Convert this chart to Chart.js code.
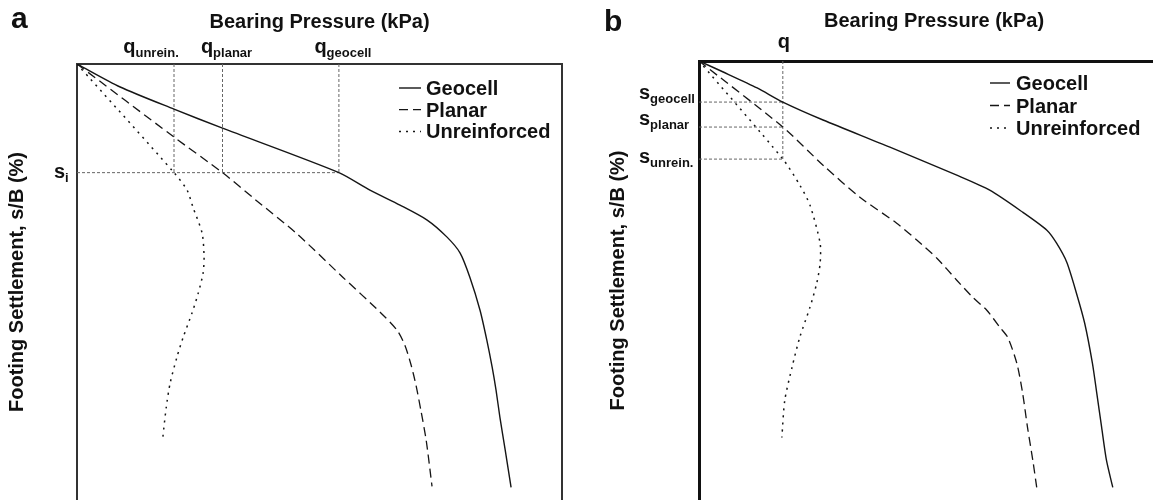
<!DOCTYPE html>
<html>
<head>
<meta charset="utf-8">
<title>Bearing pressure vs footing settlement</title>
<script src="https://cdn.jsdelivr.net/npm/chart.js@4.4.1/dist/chart.umd.min.js"></script>
<style>
  html, body { margin: 0; padding: 0; overflow: hidden; background: #fff; }
  .panel { position: absolute; top: 0; }
  #panelA { left: 0; }
  #panelB { left: 580px; }
</style>
</head>
<body>
<div class="panel" id="panelA"><canvas id="chartA" width="580" height="500"></canvas></div>
<div class="panel" id="panelB"><canvas id="chartB" width="600" height="500"></canvas></div>
<script>
// Series names (legend)
const seriesNames = ['Geocell', 'Planar', 'Unreinforced'];

// Panel a - bearing pressure q (kPa) and settlement s/B (%)
const aGeocellQ = [0, 89, 200, 300, 540, 604, 666, 722, 763, 790, 810, 831, 845, 856, 864, 872, 883, 895];
const aGeocellS = [0, 1.63, 3.2, 4.55, 7.7, 8.94, 10.0, 11.06, 12.27, 13.4, 15.11, 17.45, 19.57, 21.49, 23.12, 25.04, 27.38, 30.0];
const aPlanarQ = [0, 200, 300, 369, 452, 548, 625, 660, 676, 689, 699, 709, 720, 732];
const aPlanarS = [0, 5.18, 7.7, 9.65, 11.99, 15.11, 17.59, 18.87, 19.93, 21.35, 22.77, 24.54, 26.67, 29.93];
const aUnreinQ = [0, 200, 227, 239, 258, 262, 260, 250, 237, 219, 206, 192, 184, 177];
const aUnreinS = [0, 7.7, 8.94, 10.14, 11.99, 13.69, 14.82, 16.24, 17.66, 19.36, 20.78, 22.62, 24.33, 26.45];
// reference settlement s_i and the pressures reached at it
const aSi = 7.7;
const aQAtSi = [200, 300, 540];
const aQNames = ['unrein.', 'planar', 'geocell'];

// Panel b - same axes, fixed pressure q
const bGeocellQ = [0, 50, 120, 173, 256, 394, 532, 600, 668, 718, 738, 759, 779, 796, 812, 821, 831, 841, 854];
const bGeocellS = [0, 0.78, 1.91, 2.91, 4.18, 6.1, 8.09, 9.15, 10.71, 11.99, 12.91, 14.26, 16.45, 18.58, 21.42, 23.55, 25.96, 28.3, 30.21];
const bPlanarQ = [0, 173, 256, 332, 408, 450, 491, 532, 565, 594, 621, 637, 656, 668, 678, 689, 697];
const bPlanarS = [0, 4.68, 7.38, 9.65, 11.49, 12.7, 13.97, 15.53, 16.74, 17.66, 18.87, 19.57, 21.42, 23.55, 25.96, 28.3, 30.21];
const bUnreinQ = [0, 173, 208, 229, 250, 250, 243, 229, 208, 192, 177, 171];
const bUnreinS = [0, 6.95, 8.79, 10.21, 12.91, 14.33, 15.74, 17.45, 19.57, 21.7, 24.04, 26.67];
const bQ = 173;
const bSAtQ = [2.91, 4.68, 6.95];
const bSNames = ['geocell', 'planar', 'unrein.'];

const FONT = "'Liberation Sans', Arial, Helvetica, sans-serif";
Chart.defaults.font.family = FONT;
Chart.defaults.color = '#111';

const pts = (xs, ys) => xs.map((v, i) => ({ x: v, y: ys[i] }));

function curves(gq, gs, pq, ps, uq, us) {
    return [
        { label: 'Geocell', data: pts(gq, gs), borderColor: '#151515', borderWidth: 1.4, tension: 0.25 },
        { label: 'Planar', data: pts(pq, ps), borderColor: '#151515', borderWidth: 1.3, borderDash: [9, 5], tension: 0.25 },
        { label: 'Unreinforced', data: pts(uq, us), borderColor: '#151515', borderWidth: 1.5, borderDash: [2, 5], tension: 0.25 }
    ];
}

function guide(data) {
    return { label: 'guide', data: data, borderColor: '#666', borderWidth: 1, borderDash: [3, 2], tension: 0, order: 5 };
}

// pressure / settlement letter with a subscript
function subText(ctx, main, sub, x, y, align) {
    ctx.font = 'bold 20px ' + FONT;
    const w1 = ctx.measureText(main).width;
    ctx.font = 'bold 13px ' + FONT;
    const w2 = ctx.measureText(sub).width;
    const left = align === 'center' ? x - (w1 + w2) / 2 : x;
    ctx.textAlign = 'left';
    ctx.font = 'bold 20px ' + FONT;
    ctx.fillText(main, left, y);
    ctx.font = 'bold 13px ' + FONT;
    ctx.fillText(sub, left + w1, y + 4);
}

const annotate = {
    id: 'annotate',
    afterDraw(chart, args, opts) {
        const { ctx } = chart;
        ctx.save();
        ctx.fillStyle = '#111';
        ctx.textBaseline = 'alphabetic';
        // panel letter
        ctx.font = 'bold 30px ' + FONT;
        ctx.textAlign = 'left';
        ctx.fillText(opts.letter.text, opts.letter.x, opts.letter.y);
        // legend
        const lg = opts.legend;
        chart.data.datasets.filter(d => seriesNames.includes(d.label)).forEach((d, i) => {
            const yb = lg.y + i * lg.step;
            ctx.strokeStyle = d.borderColor;
            ctx.lineWidth = d.borderWidth;
            ctx.setLineDash(d.borderDash || []);
            ctx.beginPath();
            ctx.moveTo(lg.x1, yb - 7);
            ctx.lineTo(lg.x2, yb - 7);
            ctx.stroke();
            ctx.setLineDash([]);
            ctx.font = 'bold 20px ' + FONT;
            ctx.fillText(d.label, lg.tx, yb);
        });
        opts.labels(chart).forEach(l => subText(ctx, l.main, l.sub, l.x, l.y, l.align));
        ctx.restore();
    }
};

function scalesFor(xMax, yMax, xPad, yPad, bw, bc) {
    return {
        x: {
            type: 'linear', position: 'top', min: 0, max: xMax,
            grid: { display: false, drawTicks: false },
            ticks: { display: false },
            border: { display: true, width: bw, color: bc },
            title: { display: true, text: 'Bearing Pressure (kPa)', font: { size: 20, weight: 'bold' }, color: '#111', padding: xPad }
        },
        y: {
            type: 'linear', position: 'left', reverse: true, min: 0, max: yMax,
            grid: { display: false, drawTicks: false },
            ticks: { display: false },
            border: { display: true, width: bw, color: bc },
            title: { display: true, text: 'Footing Settlement, s/B (%)', font: { size: 20, weight: 'bold' }, color: '#111', padding: yPad }
        }
    };
}

// ---- panel a ----
const dsA = curves(aGeocellQ, aGeocellS, aPlanarQ, aPlanarS, aUnreinQ, aUnreinS);
dsA.push(guide([{ x: 0, y: aSi }, { x: aQAtSi[2], y: aSi }]));
aQAtSi.forEach(q => dsA.push(guide([{ x: q, y: 0 }, { x: q, y: aSi }])));

const scalesA = scalesFor(1000, 30.9, { top: 10, bottom: 30 }, { top: 5.5, bottom: 47.5 }, 2, '#333');
scalesA.yRight = {
    type: 'linear', position: 'right', display: true,
    grid: { display: false, drawTicks: false },
    ticks: { display: false },
    border: { display: true, width: 2, color: '#333' }
};

new Chart(document.getElementById('chartA'), {
    type: 'line',
    data: { datasets: dsA },
    options: {
        responsive: false,
        animation: false,
        layout: { padding: { left: 0, top: 0, right: 18, bottom: 0 }, autoPadding: false },
        elements: { point: { radius: 0 } },
        plugins: {
            legend: { display: false },
            tooltip: { enabled: false },
            annotate: {
                letter: { text: 'a', x: 11, y: 28 },
                legend: { x1: 399, x2: 421, tx: 426, y: 95, step: 21.7 },
                labels: chart => {
                    const { x, y } = chart.scales;
                    const dx = [-23, 4, 4];
                    const out = aQAtSi.map((q, i) => ({
                        main: 'q', sub: aQNames[i], align: 'center',
                        x: x.getPixelForValue(q) + dx[i], y: chart.chartArea.top - 11
                    }));
                    out.push({ main: 's', sub: 'i', align: 'left', x: 54, y: y.getPixelForValue(aSi) + 5 });
                    return out;
                }
            }
        },
        scales: scalesA
    },
    plugins: [annotate]
});

// ---- panel b ----
const dsB = curves(bGeocellQ, bGeocellS, bPlanarQ, bPlanarS, bUnreinQ, bUnreinS);
dsB.push(guide([{ x: bQ, y: 0 }, { x: bQ, y: bSAtQ[2] }]));
bSAtQ.forEach(s => dsB.push(guide([{ x: 0, y: s }, { x: bQ, y: s }])));

new Chart(document.getElementById('chartB'), {
    type: 'line',
    data: { datasets: dsB },
    options: {
        responsive: false,
        animation: false,
        layout: { padding: { left: 0, top: 0, right: 11, bottom: 0 }, autoPadding: false },
        elements: { point: { radius: 0 } },
        plugins: {
            legend: { display: false },
            tooltip: { enabled: false },
            annotate: {
                letter: { text: 'b', x: 24, y: 31 },
                legend: { x1: 410, x2: 430, tx: 436, y: 90, step: 22.5 },
                labels: chart => {
                    const { x, y } = chart.scales;
                    const dy = [-3, -2, 4];
                    const out = bSAtQ.map((s, i) => ({
                        main: 's', sub: bSNames[i], align: 'left',
                        x: chart.chartArea.left - 60, y: y.getPixelForValue(s) + dy[i]
                    }));
                    out.push({ main: 'q', sub: '', align: 'center', x: x.getPixelForValue(bQ) + 1, y: chart.chartArea.top - 13.5 });
                    return out;
                }
            }
        },
        scales: scalesFor(970, 31.1, { top: 9, bottom: 28 }, { top: 26, bottom: 69 }, 3, '#111')
    },
    plugins: [annotate]
});
</script>
</body>
</html>
